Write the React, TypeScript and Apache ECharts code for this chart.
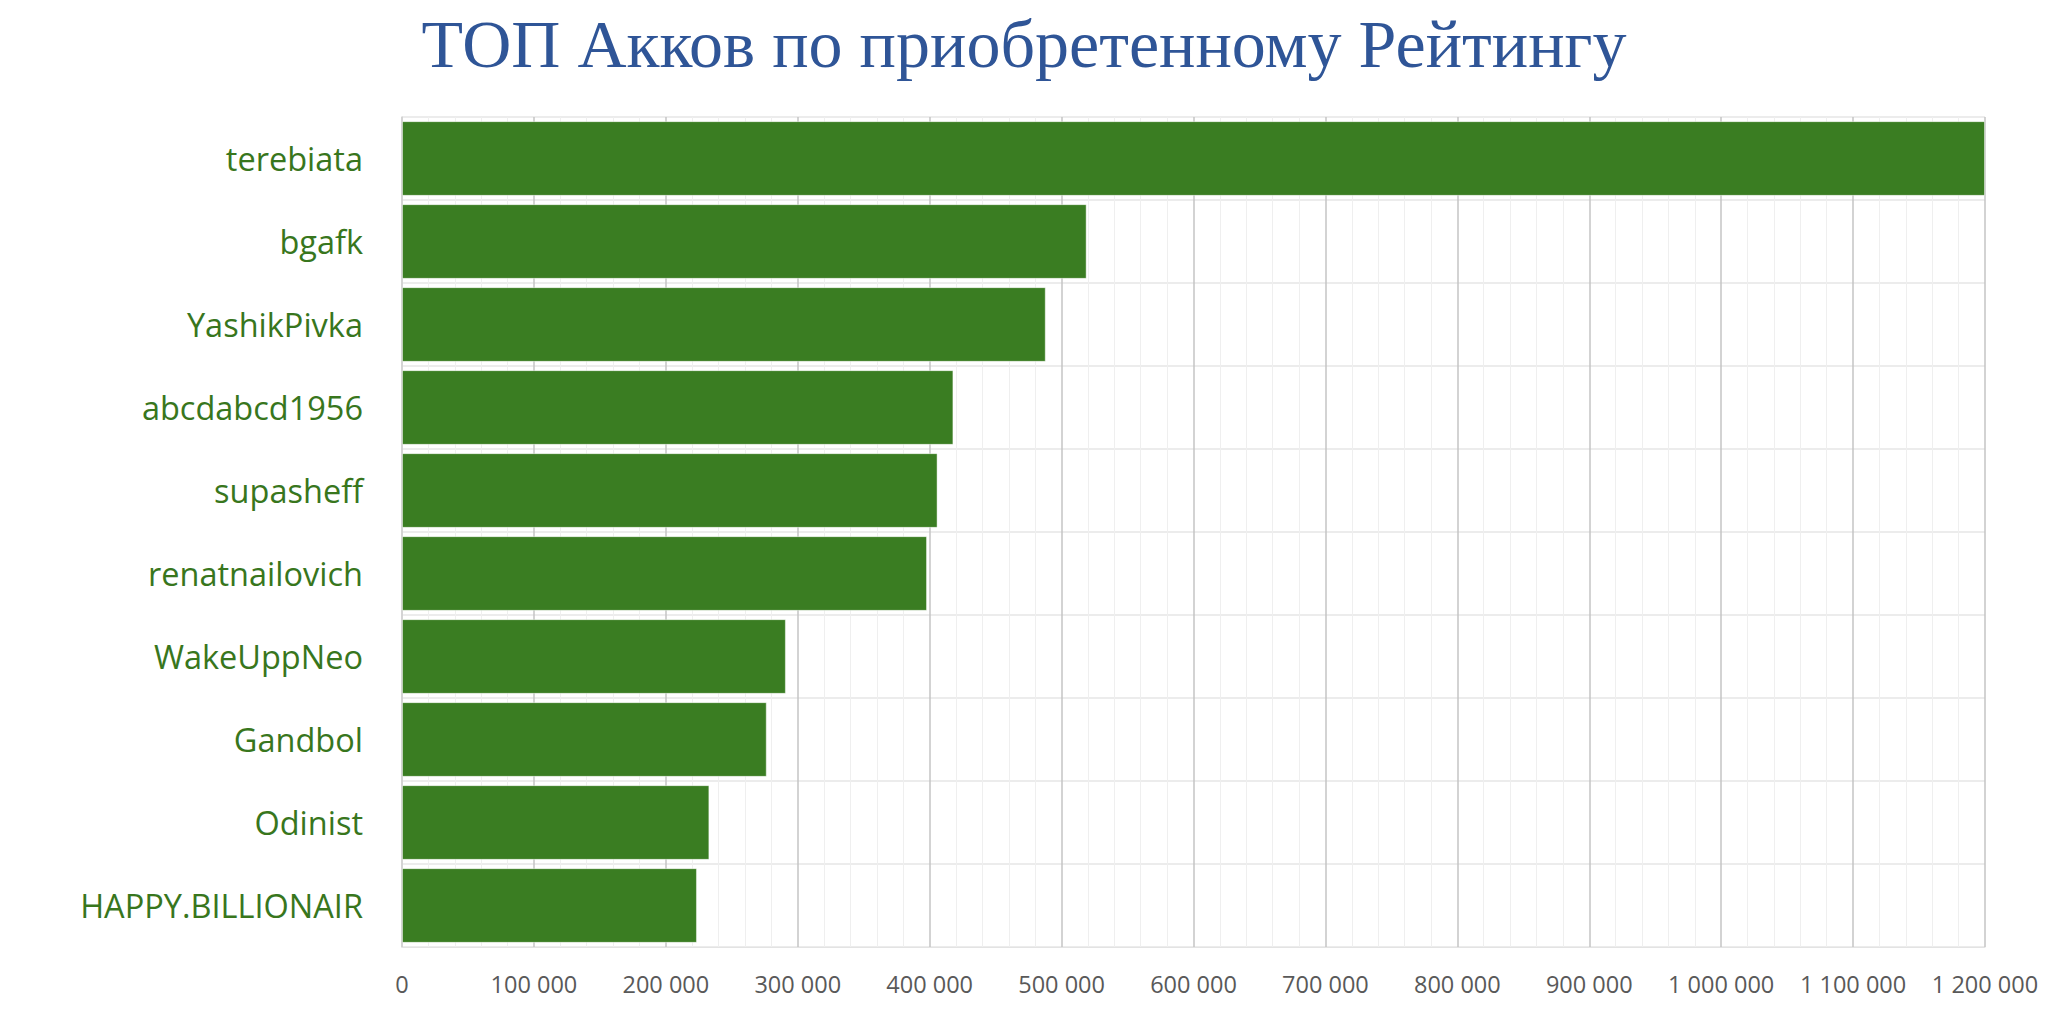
import React, { useEffect, useRef } from "react";
import * as echarts from "echarts";

const titleText = "ТОП Акков по приобретенному Рейтингу";
const categories = [
  "terebiata",
  "bgafk",
  "YashikPivka",
  "abcdabcd1956",
  "supasheff",
  "renatnailovich",
  "WakeUppNeo",
  "Gandbol",
  "Odinist",
  "HAPPY.BILLIONAIR",
];
const values = [1200000, 519000, 488000, 418000, 406000, 398000, 291000, 276500, 233000, 223600];
const axisMax = 1200000;
const axisInterval = 100000;

function fmt(v: number): string {
  return String(v).replace(/\B(?=(\d{3})+(?!\d))/g, " ");
}

export default function App() {
  const ref = useRef<HTMLDivElement>(null);
  useEffect(() => {
    if (!ref.current) return;
    const chart = echarts.init(ref.current, undefined, { renderer: "svg" });
    chart.setOption({
      animation: false,
      backgroundColor: "#ffffff",
      title: {
        text: titleText,
        left: "center",
        top: 5,
        textStyle: {
          fontFamily: "Liberation Serif",
          fontSize: 68,
          fontWeight: "normal",
          color: "#2F5597",
        },
      },
      grid: { left: 402, right: 63, top: 117, bottom: 88, containLabel: false },
      xAxis: {
        type: "value",
        min: 0,
        max: axisMax,
        interval: axisInterval,
        axisLine: { show: true, lineStyle: { color: "#e3e3e3", width: 1 } },
        axisTick: { show: false },
        axisLabel: {
          formatter: (v: number) => fmt(v),
          color: "#595959",
          fontFamily: "Open Sans",
          fontSize: 23.5,
          margin: 25,
        },
        splitLine: { show: true, lineStyle: { color: "#c4c4c4", width: 1.5 } },
        minorTick: { show: false, splitNumber: 5 },
        minorSplitLine: { show: true, lineStyle: { color: "#efefef", width: 1 } },
      },
      yAxis: {
        type: "category",
        data: categories,
        inverse: true,
        axisLine: { show: true, lineStyle: { color: "#d4d4d4", width: 1.5 } },
        axisTick: { show: false },
        axisLabel: {
          color: "#38761D",
          fontFamily: "Open Sans",
          fontSize: 32.5,
          margin: 39,
        },
        splitLine: { show: true, lineStyle: { color: "#ececec", width: 2 } },
      },
      series: [
        {
          type: "bar",
          data: values,
          barCategoryGap: "10%",
          itemStyle: {
            color: "#3A7D22",
            borderColor: "rgba(255,255,255,0.45)",
            borderWidth: 1,
          },
        },
      ],
    });
    return () => chart.dispose();
  }, []);
  return (
    <div
      ref={ref}
      style={{ position: "absolute", left: 0, top: 0, width: 2048, height: 1035 }}
    />
  );
}
